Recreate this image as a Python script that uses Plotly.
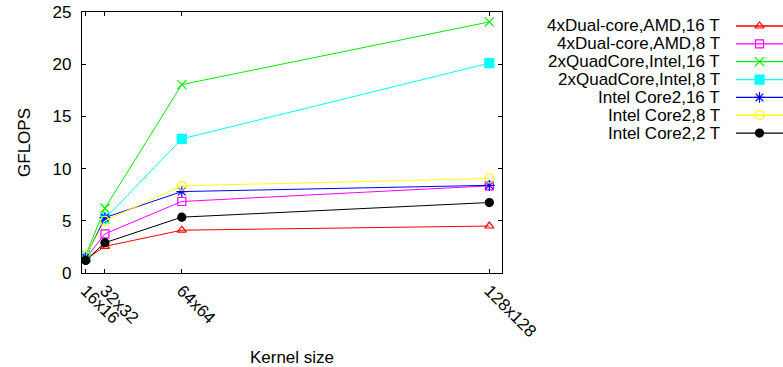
import plotly.graph_objects as go

# Kernel sizes (N x N) and the problem size used on the x axis (N*N)
kernel_n = [16, 32, 64, 128]
tick_labels = ["16x16", "32x32", "64x64", "128x128"]
kernel_area = [n * n for n in kernel_n]

series_names = [
    "4xDual-core,AMD,16 T",
    "4xDual-core,AMD,8 T",
    "2xQuadCore,Intel,16 T",
    "2xQuadCore,Intel,8 T",
    "Intel Core2,16 T",
    "Intel Core2,8 T",
    "Intel Core2,2 T",
]

amd_16t = [1.3, 2.55, 4.1, 4.5]
amd_8t = [1.4, 3.75, 6.85, 8.35]
quad_16t = [1.7, 6.2, 18.05, 24.05]
quad_8t = [1.6, 5.2, 12.85, 20.1]
core2_16t = [1.5, 5.3, 7.8, 8.4]
core2_8t = [1.6, 5.0, 8.35, 9.05]
core2_2t = [1.2, 2.9, 5.35, 6.75]

series_values = [amd_16t, amd_8t, quad_16t, quad_8t, core2_16t, core2_8t, core2_2t]

colors = ["#ff0000", "#ff00ff", "#00ee00", "#00ffff", "#0000ff", "#ffff00", "#000000"]
symbols = ["triangle-up-open", "square-open", "x-thin-open", "square",
           "asterisk-open", "circle-open", "circle"]
marker_sizes = [8, 8, 9, 9, 9, 9, 8]

FONT = "Liberation Sans"
FS = 17
W, H = 783, 367
ML, MT, MB = 82, 12, 94
PLOT_W = 420
paper_w = W - ML

fig = go.Figure()

for name, vals, col, sym, ms in zip(series_names, series_values, colors, symbols, marker_sizes):
    fig.add_trace(go.Scatter(
        x=kernel_area, y=vals, name=name, mode="lines+markers",
        line=dict(color=col, width=1),
        marker=dict(symbol=sym, size=ms, color=col, line=dict(color=col, width=1.2)),
        showlegend=False, xaxis="x", yaxis="y",
    ))

# Key on the right: right-aligned label, then a line sample with its marker
for i, (name, col, sym, ms) in enumerate(zip(series_names, colors, symbols, marker_sizes)):
    fig.add_trace(go.Scatter(
        x=[0, 1], y=[i, i], mode="lines", line=dict(color=col, width=1.3),
        showlegend=False, hoverinfo="skip", xaxis="x2", yaxis="y2",
    ))
    fig.add_trace(go.Scatter(
        x=[0.5], y=[i], mode="markers",
        marker=dict(symbol=sym, size=ms, color=col, line=dict(color=col, width=1.2)),
        showlegend=False, hoverinfo="skip", xaxis="x2", yaxis="y2",
    ))
    fig.add_annotation(
        x=(722 - ML) / paper_w, xref="paper", y=i, yref="y2",
        text=name, showarrow=False, xanchor="right", yanchor="middle",
        font=dict(family=FONT, size=FS, color="#000000"),
    )

axis_common = dict(
    showline=True, linecolor="#000000", linewidth=1.2, mirror="ticks",
    ticks="inside", ticklen=4, tickcolor="#000000", tickwidth=1,
    showgrid=False, zeroline=False, automargin=False,
    tickfont=dict(family=FONT, size=FS, color="#000000"),
)

fig.update_layout(
    width=W, height=H,
    margin=dict(l=ML, r=0, t=MT, b=MB),
    paper_bgcolor="#ffffff", plot_bgcolor="#ffffff",
    font=dict(family=FONT, size=FS, color="#000000"),
    xaxis=dict(
        domain=[0, PLOT_W / paper_w], range=[108, 16890],
        tickvals=kernel_area, ticktext=tick_labels, tickangle=45,
        title=dict(text="Kernel size", font=dict(family=FONT, size=FS), standoff=20),
        **axis_common,
    ),
    yaxis=dict(
        range=[0, 25], tickvals=[0, 5, 10, 15, 20, 25], ticklabelstandoff=6,
        title=dict(text="GFLOPS", font=dict(family=FONT, size=FS), standoff=17),
        **axis_common,
    ),
    xaxis2=dict(domain=[(736 - ML) / paper_w, 1], range=[0, 1], visible=False,
                anchor="y2"),
    yaxis2=dict(domain=[0, 1], range=[13.84, -0.784], visible=False, anchor="x2"),
)

fig.write_html("out.html")
